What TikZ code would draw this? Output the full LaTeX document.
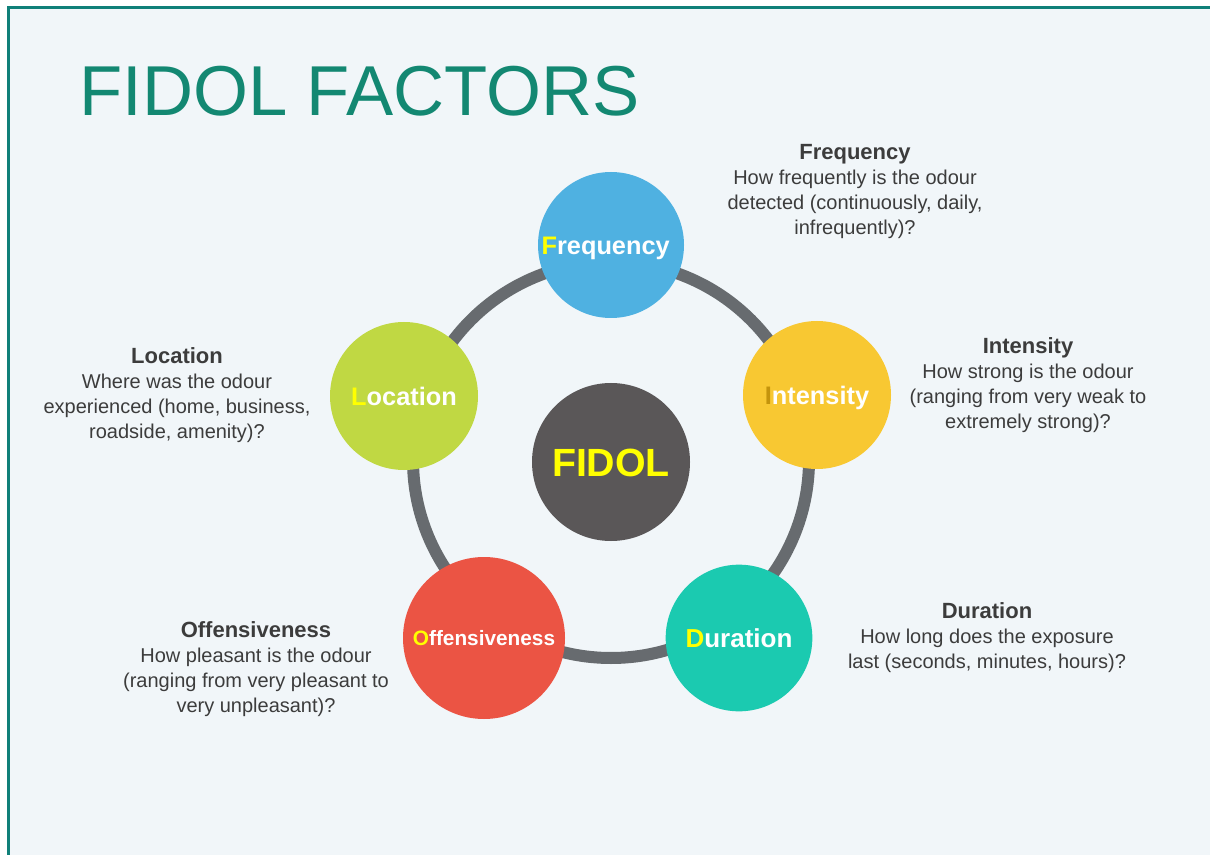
\documentclass[tikz,border=0pt]{standalone}
\usepackage{fontspec}
\setmainfont{Liberation Sans}
\definecolor{pagebg}{RGB}{241,246,249}
\definecolor{framecol}{RGB}{16,128,121}
\definecolor{titlecol}{RGB}{19,136,114}
\definecolor{ringcol}{RGB}{103,107,111}
\definecolor{freqcol}{RGB}{79,177,225}
\definecolor{intcol}{RGB}{248,200,50}
\definecolor{durcol}{RGB}{27,202,176}
\definecolor{offcol}{RGB}{235,84,68}
\definecolor{loccol}{RGB}{192,216,67}
\definecolor{fidolcol}{RGB}{90,87,88}
\definecolor{lettercol}{RGB}{255,255,0}
\definecolor{ilettercol}{RGB}{196,148,12}
\definecolor{desccol}{RGB}{60,60,60}
\newcommand{\headfont}{\bfseries\fontsize{16.5}{18.7}\selectfont}
\begin{document}
\begin{tikzpicture}[x=0.75pt, y=-0.75pt,
  factor/.style={circle, inner sep=0pt, text=white, font=\bfseries\fontsize{19}{22}\selectfont,
    text height=13.6pt, text depth=0pt},
  desc/.style={align=center, anchor=north, inner sep=0pt, text=desccol,
    font=\fontsize{15}{18.7}\selectfont}]
\useasboundingbox (0,0) rectangle (1210,855);

% Page background and frame
\fill[pagebg] (8,9) rectangle (1210,855);
\draw[framecol, line width=2.25pt] (8,855) -- (8,8) -- (1210,8);

% Title
\node[anchor=west, inner sep=0pt, text=titlecol, font=\fontsize{53}{60}\selectfont,
  text height=37.9pt, text depth=0pt] (title) at (79,90) {FIDOL FACTORS};

% Centre and ring
\node[factor, fill=fidolcol, minimum size=118.5pt, text=lettercol,
  font=\bfseries\fontsize{29.5}{34}\selectfont, text height=21.1pt] (fidol) at (611,462) {FIDOL};
\draw[ringcol, line width=9pt] (611,460) circle[radius=148.5pt];

% The five factors
\node[factor, fill=freqcol, minimum size=109.5pt] (freq) at (611,245)
  {\hspace{-8pt}\textcolor{lettercol}{F}requency};
\node[factor, fill=intcol, minimum size=111pt] (int) at (817,395)
  {\textcolor{ilettercol}{I}ntensity};
\node[factor, fill=durcol, minimum size=110pt, font=\bfseries\fontsize{19.5}{22}\selectfont, text height=14pt] (dur) at (739,638)
  {\textcolor{lettercol}{D}uration};
\node[factor, fill=offcol, minimum size=121.5pt, font=\bfseries\fontsize{15.6}{18}\selectfont, text height=11.2pt] (off) at (484,638)
  {\textcolor{lettercol}{O}ffensiveness};
\node[factor, fill=loccol, minimum size=111pt] (loc) at (404,396)
  {\textcolor{lettercol}{L}ocation};

% Descriptions
\node[desc] (freqtext) at (855,144) {{\headfont Frequency}\\How frequently is the odour\\detected (continuously, daily,\\infrequently)?};
\node[desc] (inttext) at (1028,337) {{\headfont Intensity}\\How strong is the odour\\(ranging from very weak to\\extremely strong)?};
\node[desc] (durtext) at (987,602) {{\headfont Duration}\\How long does the exposure\\last (seconds, minutes, hours)?};
\node[desc] (offtext) at (256,621) {{\headfont Offensiveness}\\How pleasant is the odour\\(ranging from very pleasant to\\very unpleasant)?};
\node[desc] (loctext) at (177,347) {{\headfont Location}\\Where was the odour\\experienced (home, business,\\roadside, amenity)?};
\end{tikzpicture}
\end{document}
